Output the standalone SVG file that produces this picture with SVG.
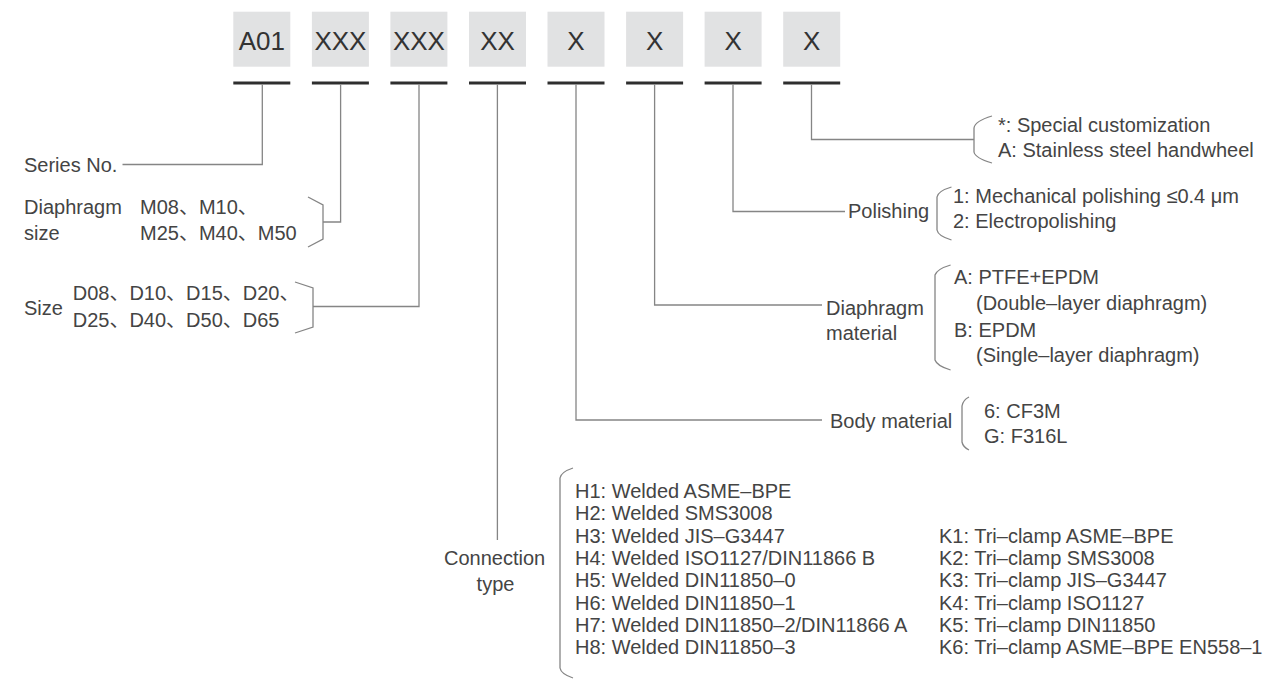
<svg xmlns="http://www.w3.org/2000/svg" width="1269" height="680" viewBox="0 0 1269 680">
<style>
.t{font-family:"Liberation Sans",Arial,"Noto Sans CJK SC",sans-serif;font-size:20px;fill:#444}
.c{font-family:"Liberation Sans",Arial,"Noto Sans CJK SC",sans-serif;font-size:26px;fill:#333;text-anchor:middle}
.box{fill:#e1e2e3}
.ul{stroke:#2e2e2e;stroke-width:3}
.ln{stroke:#858585;stroke-width:1.3;fill:none}
.m{text-anchor:middle}
</style>
<rect width="1269" height="680" fill="#fff"/>
<g id="code-a01"><rect class="box" x="233.3" y="11.7" width="57" height="55"/><text class="c" x="261.8" y="49.5">A01</text><line class="ul" x1="233.3" y1="83" x2="290.3" y2="83"/></g>
<g id="code-xxx1"><rect class="box" x="311.9" y="11.7" width="57" height="55"/><text class="c" x="340.4" y="49.5">XXX</text><line class="ul" x1="311.9" y1="83" x2="368.9" y2="83"/></g>
<g id="code-xxx2"><rect class="box" x="390.4" y="11.7" width="57" height="55"/><text class="c" x="418.9" y="49.5">XXX</text><line class="ul" x1="390.4" y1="83" x2="447.4" y2="83"/></g>
<g id="code-xx"><rect class="box" x="469" y="11.7" width="57" height="55"/><text class="c" x="497.5" y="49.5">XX</text><line class="ul" x1="469" y1="83" x2="526" y2="83"/></g>
<g id="code-x1"><rect class="box" x="547.5" y="11.7" width="57" height="55"/><text class="c" x="576" y="49.5">X</text><line class="ul" x1="547.5" y1="83" x2="604.5" y2="83"/></g>
<g id="code-x2"><rect class="box" x="626.1" y="11.7" width="57" height="55"/><text class="c" x="654.6" y="49.5">X</text><line class="ul" x1="626.1" y1="83" x2="683.1" y2="83"/></g>
<g id="code-x3"><rect class="box" x="704.6" y="11.7" width="57" height="55"/><text class="c" x="733.1" y="49.5">X</text><line class="ul" x1="704.6" y1="83" x2="761.6" y2="83"/></g>
<g id="code-x4"><rect class="box" x="783.2" y="11.7" width="57" height="55"/><text class="c" x="811.7" y="49.5">X</text><line class="ul" x1="783.2" y1="83" x2="840.2" y2="83"/></g>

<g id="connectors">
<path class="ln" d="M262.3,84.5 V164.5 H122.5"/>
<path class="ln" d="M340.6,84.5 V222 H323"/>
<path class="ln" d="M419,84.5 V306.5 H313"/>
<path class="ln" d="M497.4,84.5 V540"/>
<path class="ln" d="M576,84.5 V420 H822"/>
<path class="ln" d="M654.6,84.5 V305 H822"/>
<path class="ln" d="M733,84.5 V211.5 H845"/>
<path class="ln" d="M811.5,84.5 V139.5 H974"/>
</g>

<g id="series-no"><text class="t" x="24" y="171.5">Series No.</text></g>

<g id="diaphragm-size">
<text class="t" x="24" y="214">Diaphragm</text>
<text class="t" x="24" y="240">size</text>
<text class="t" x="140" y="214">M08、M10、</text>
<text class="t" x="140" y="240">M25、M40、M50</text>
<path class="ln" d="M308,197 L323,205 V239 L308,247"/>
</g>

<g id="size">
<text class="t" x="24" y="315">Size</text>
<text class="t" x="72.7" y="300">D08、D10、D15、D20、</text>
<text class="t" x="72.7" y="326.7">D25、D40、D50、D65</text>
<path class="ln" d="M295,282 L313,288 V327 L295,333"/>
</g>

<g id="connection-type">
<text class="t" x="444" y="565">Connection</text>
<text class="t m" x="495.5" y="591">type</text>
<path class="ln" d="M573,468 Q561,472 560,478 V668 Q561,674 573,678"/>
<text class="t" x="575" y="498">H1: Welded ASME–BPE</text>
<text class="t" x="575" y="520.3">H2: Welded SMS3008</text>
<text class="t" x="575" y="542.7">H3: Welded JIS–G3447</text>
<text class="t" x="575" y="565">H4: Welded ISO1127/DIN11866 B</text>
<text class="t" x="575" y="587.3">H5: Welded DIN11850–0</text>
<text class="t" x="575" y="609.7">H6: Welded DIN11850–1</text>
<text class="t" x="575" y="632">H7: Welded DIN11850–2/DIN11866 A</text>
<text class="t" x="575" y="654.3">H8: Welded DIN11850–3</text>
<text class="t" x="939" y="542.7">K1: Tri–clamp ASME–BPE</text>
<text class="t" x="939" y="565">K2: Tri–clamp SMS3008</text>
<text class="t" x="939" y="587.3">K3: Tri–clamp JIS–G3447</text>
<text class="t" x="939" y="609.7">K4: Tri–clamp ISO1127</text>
<text class="t" x="939" y="632">K5: Tri–clamp DIN11850</text>
<text class="t" x="939" y="654.3">K6: Tri–clamp ASME–BPE EN558–1</text>
</g>

<g id="body-material">
<text class="t" x="830" y="428">Body material</text>
<path class="ln" d="M969,397 Q963,400 962,406 V442 Q963,447 969,450"/>
<text class="t" x="984" y="418">6: CF3M</text>
<text class="t" x="984" y="443">G: F316L</text>
</g>

<g id="diaphragm-material">
<text class="t" x="826" y="315">Diaphragm</text>
<text class="t" x="826" y="339.5">material</text>
<path class="ln" d="M950.6,265 Q937,269 935,275 V360 Q937,366 950.6,370"/>
<text class="t" x="954" y="283.5">A: PTFE+EPDM</text>
<text class="t" x="976" y="310">(Double–layer diaphragm)</text>
<text class="t" x="954" y="336.5">B: EPDM</text>
<text class="t" x="976" y="361.5">(Single–layer diaphragm)</text>
</g>

<g id="polishing">
<text class="t" x="848" y="218">Polishing</text>
<path class="ln" d="M951.5,187 Q938,191 937,197 V230 Q938,236 951.5,240"/>
<text class="t" x="953" y="203">1: Mechanical polishing ≤0.4 μm</text>
<text class="t" x="953" y="228">2: Electropolishing</text>
</g>

<g id="handwheel">
<path class="ln" d="M992,116 Q975,121 974,128 V152 Q975,158 992,163"/>
<text class="t" x="998" y="132">*: Special customization</text>
<text class="t" x="998" y="157">A: Stainless steel handwheel</text>
</g>
</svg>
